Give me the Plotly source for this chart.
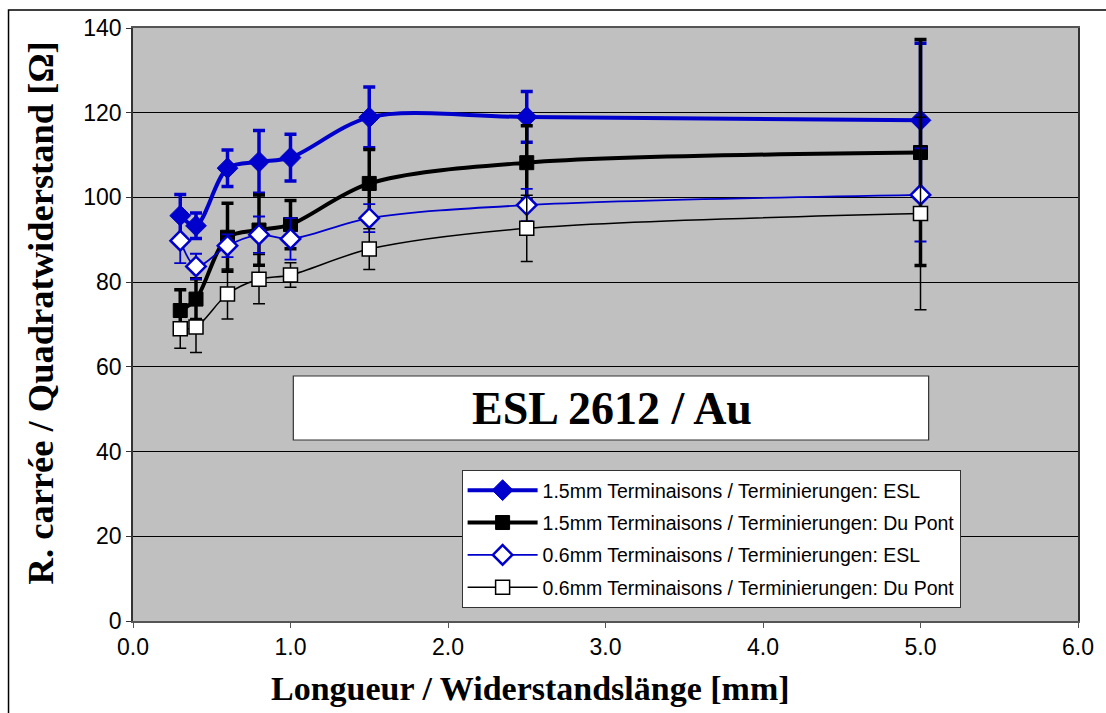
import plotly.graph_objects as go

x_len = [0.3, 0.4, 0.6, 0.8, 1.0, 1.5, 2.5, 5.0]

s1_name = "1.5mm Terminaisons / Terminierungen: ESL"
s1_y = [95.7, 93.3, 106.9, 108.4, 109.4, 118.9, 119.0, 118.2]
s1_err = [5.0, 3.0, 4.3, 7.4, 5.5, 7.2, 6.0, 18.2]

s2_name = "1.5mm Terminaisons / Terminierungen: Du Pont"
s2_y = [73.3, 76.0, 90.6, 92.3, 93.6, 103.3, 108.2, 110.6]
s2_err = [4.9, 4.8, 8.0, 8.3, 5.7, 8.0, 8.7, 26.7]

s3_name = "0.6mm Terminaisons / Terminierungen: ESL"
s3_y = [89.8, 83.7, 88.6, 91.2, 90.2, 95.1, 98.2, 100.6]
s3_err = [5.3, 3.0, 2.7, 4.3, 4.9, 3.3, 3.8, 11.0]

s4_name = "0.6mm Terminaisons / Terminierungen: Du Pont"
s4_y = [69.0, 69.4, 77.2, 80.7, 81.7, 87.8, 92.7, 96.2]
s4_err = [4.6, 6.0, 5.9, 5.8, 2.9, 4.8, 7.8, 22.7]

y_ticks = [0, 20, 40, 60, 80, 100, 120, 140]
x_ticks = [0.0, 1.0, 2.0, 3.0, 4.0, 5.0, 6.0]
x_tick_text = ["0.0", "1.0", "2.0", "3.0", "4.0", "5.0", "6.0"]

BLUE = "#0000CC"

# pixel geometry helpers
W, H = 1106, 713
L, R, T, B = 133, 1082, 28, 621
def px(x):
    return (x - L) / (R - L)
def py(y):
    return (B - y) / (B - T)

fig = go.Figure()

def add(name, y, err, color, lw, symbol, msize, mfill, mlw, ethick, group):
    fig.add_trace(go.Scatter(
        x=x_len, y=y, name=name, mode="lines+markers",
        line=dict(color=color, width=lw, shape="spline", smoothing=0.9),
        marker=dict(symbol=symbol, size=msize, color=mfill,
                    line=dict(color=color, width=mlw)),
        error_y=dict(type="data", array=err, visible=True, color=color,
                     thickness=ethick, width=6),
        legendgroup=group,
    ))

add(s1_name, s1_y, s1_err, BLUE, 4, "diamond", 16, BLUE, 1, 3.5, "a")
add(s2_name, s2_y, s2_err, "black", 4, "square", 14, "black", 1, 3.5, "b")
add(s3_name, s3_y, s3_err, BLUE, 1.8, "diamond", 15, "white", 2.5, 1.8, "c")
add(s4_name, s4_y, s4_err, "black", 1.5, "square", 14, "white", 1.5, 1.5, "d")

SANS = "Liberation Sans, Arial, sans-serif"
SERIF = "Liberation Serif, Times New Roman, serif"

fig.update_layout(
    width=W, height=H,
    margin=dict(l=L, r=W - R, t=T, b=H - B),
    paper_bgcolor="white",
    plot_bgcolor="#C0C0C0",
    font=dict(family=SANS, color="black"),
    showlegend=True,
    legend=dict(
        x=px(463), y=py(470), xanchor="left", yanchor="top",
        bgcolor="white", bordercolor="#333333", borderwidth=1,
        font=dict(size=19.5, family=SANS),
        tracegroupgap=4, traceorder="grouped", itemwidth=70,
    ),
    xaxis=dict(
        range=[0, 6], tickvals=x_ticks, ticktext=x_tick_text,
        showgrid=False, zeroline=False,
        showline=True, linecolor="#555555", linewidth=1.5, mirror=True,
        ticks="outside", ticklen=5, tickcolor="#555555",
        tickfont=dict(size=23, family=SANS),
    ),
    yaxis=dict(
        range=[0, 140], tickvals=y_ticks,
        showgrid=True, gridcolor="black", gridwidth=1, zeroline=False,
        showline=True, linecolor="#333333", linewidth=1.5, mirror=True,
        ticks="outside", ticklen=5, tickcolor="#333333",
        tickfont=dict(size=23, family=SANS),
    ),
)

# outer frame
fig.add_shape(type="rect", xref="paper", yref="paper",
              x0=px(8), x1=px(1115), y0=py(725), y1=py(10),
              line=dict(color="black", width=1.5), fillcolor="rgba(0,0,0,0)",
              layer="below")

# title box
fig.add_shape(type="rect", xref="paper", yref="paper",
              x0=px(294), x1=px(932), y0=py(440), y1=py(376),
              line=dict(color="#333333", width=1.2), fillcolor="white",
              layer="above")
fig.add_annotation(text="<b>ESL 2612 / Au</b>", xref="paper", yref="paper",
                   x=px(614), y=py(408), xanchor="center", yanchor="middle",
                   showarrow=False,
                   font=dict(size=46, family=SERIF))

# axis titles
fig.add_annotation(text="<b>R. carrée / Quadratwiderstand [Ω]</b>", xref="paper", yref="paper",
                   x=px(40), y=py(313), xanchor="center", yanchor="middle",
                   textangle=-90, showarrow=False,
                   font=dict(size=36.5, family=SERIF))
fig.add_annotation(text="<b>Longueur / Widerstandslänge [mm]</b>", xref="paper", yref="paper",
                   x=px(532), y=py(688), xanchor="center", yanchor="middle",
                   showarrow=False,
                   font=dict(size=34, family=SERIF))

fig.write_html("out.html")
